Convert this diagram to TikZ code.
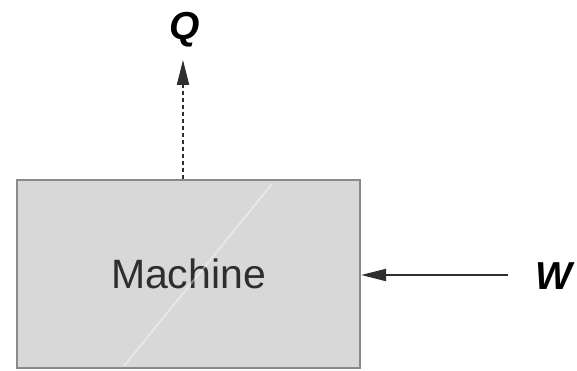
\documentclass[tikz,border=0pt]{standalone}
\usepackage{fontspec}
\setmainfont{Liberation Sans}
\usetikzlibrary{arrows.meta}
\definecolor{boxfill}{HTML}{D8D8D8}
\definecolor{boxedge}{HTML}{8A8A8A}
\definecolor{ink}{HTML}{2E2E2E}
\tikzset{
  machinebox/.style={draw=boxedge, line width=2.2pt, fill=boxfill, minimum width=343pt, minimum height=188pt, inner sep=0pt, font=\fontsize{41}{45}\selectfont, text=ink},
  qtylabel/.style={font=\fontsize{39}{43}\selectfont\bfseries\itshape, text=black, inner sep=0pt},
  flow/.style={draw=ink, line width=2pt, -{Triangle[length=25pt, width=12pt]}},
}
\begin{document}
\begin{tikzpicture}[x=1pt, y=-1pt]
  \useasboundingbox (0,0) rectangle (577,371);
  \node[machinebox] (machine) at (188.5,274) {Machine};
  % faint diagonal streak across the box face
  \draw[white, opacity=0.4, line width=2pt] (272,184) -- (124,366);
  \node[qtylabel] (Q) at (185,30) {Q};
  \node[qtylabel] (W) at (554,276) {W};
  \coordinate (wstart) at (508,275);
  \draw[flow, dash pattern=on 4pt off 3pt] (machine.north -| 183,0) -- (183,60);
  \draw[flow] (wstart) -- (machine.east |- wstart);
\end{tikzpicture}
\end{document}
